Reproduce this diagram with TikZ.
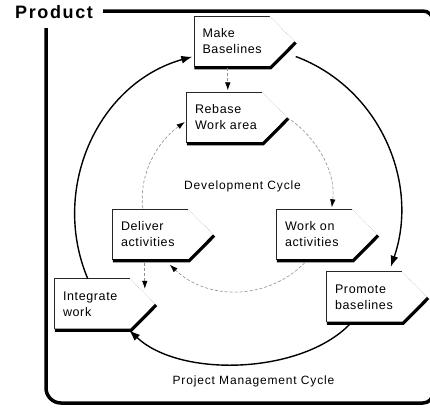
\documentclass[tikz,border=0pt]{standalone}
\usepackage{fontspec}
\setmainfont{Liberation Sans}
\newfontfamily\boxfont[LetterSpace=5]{Liberation Sans}
\newfontfamily\cyclefont[LetterSpace=7]{Liberation Sans}
\newfontfamily\titlefont[LetterSpace=9]{Liberation Sans}
\usetikzlibrary{calc,arrows.meta}

\tikzset{
  stepbox/.style={minimum width=100pt, minimum height=50pt, inner xsep=8pt,
    inner ysep=0pt, text width=84pt, align=left,
    font=\boxfont\fontsize{12.5}{16}\selectfont},
  boxedge/.style={line width=0.7pt, black!85},
  boxtip/.style={line width=0.5pt, gray!60, densely dotted},
  boxshadow/.style={line width=3.2pt, black},
  pmc/.style={line width=1.4pt, black, -{Latex[length=11pt,width=8pt]}},
  devc/.style={line width=0.65pt, gray!85, densely dashed,
    -{Latex[length=8pt,width=5.5pt,color=black]}},
  cyclelabel/.style={inner sep=0pt, font=\cyclefont\fontsize{12}{14}\selectfont},
  frameline/.style={line width=3.5pt, black}
}

% outline of a step box: thin left and top edges, faint upper point,
% heavy drop shadow along the lower point and the bottom
\newcommand\stepoutline[1]{%
  \draw[boxedge] (#1.south west) -- (#1.north west) -- ($(#1.north east)+(-25,0)$);
  \draw[boxtip] ($(#1.north east)+(-25,0)$) -- (#1.east);
  \draw[boxshadow] ($(#1.east)+(1,1)$) -- ($(#1.south east)+(-24,1)$) -- ($(#1.south west)+(0,1)$);
}

\begin{document}
\begin{tikzpicture}[x=1pt,y=-1pt]
\useasboundingbox (0,0) rectangle (430,407);

% product frame, its right side running just past the page edge
\node[anchor=base west, inner sep=0pt, font=\titlefont\bfseries\fontsize{18}{20}\selectfont]
  (prod) at (15,18) {Product};
\draw[frameline] (103,11) [rounded corners=10pt] -- (433,11) -- (433,403)
  [rounded corners=15pt] -- (46,403) [sharp corners] -- (46,28);

% steps
\node[stepbox] (mb) at (244.5,41.5) {Make\\Baselines};
\node[stepbox] (rb) at (237,117.5) {Rebase\\Work area};
\node[stepbox] (wa) at (327,234.5) {Work on\\activities};
\node[stepbox] (pb) at (377,297) {Promote\\baselines};
\node[stepbox] (da) at (163,234.5) {Deliver\\activities};
\node[stepbox] (iw) at (105,304) {Integrate\\work};
\foreach \n in {mb,rb,wa,pb,da,iw} {\stepoutline{\n}}

% project management cycle
\draw[pmc] ($(iw.north west)+(33,0)$) .. controls +(-38,-90) and +(-94.5,26.4)
  .. ($(mb.south west)+(-2,-10)$);
\draw[pmc] ($(mb.east)+(1,15)$) .. controls +(83.7,31.3) and +(29.1,-84.5)
  .. ($(pb.north west)+(64,-5)$);
\draw[pmc] ($(pb.south west)+(23,2)$) .. controls +(-48.8,50.2) and +(51,48)
  .. ($(iw.south east)+(-26,1)$);

% development cycle
\draw[devc] ($(mb.south west)+(33.5,1.5)$) -- ($(rb.north west)+(41,-2)$);
\draw[devc] (rb.east) .. controls +(29.5,19.2) and +(4.4,-34.9)
  .. ($(wa.north west)+(55,-2)$);
\draw[devc] ($(wa.south west)+(28,3)$) .. controls +(-36.9,37.5) and +(38,36.3)
  .. ($(da.south west)+(57,5)$);
\draw[devc] ($(da.north west)+(30,-1)$) .. controls +(-4.3,-33.6) and +(-27.6,19.7)
  .. ($(rb.west)+(-2,4.5)$);
\draw[devc] ($(da.south west)+(32,3)$) -- ($(iw.north west)+(90,10)$);

% cycle names
\node[cyclelabel] (devname) at (242.5,186) {Development Cycle};
\node[cyclelabel] (pmcname) at (253.5,381) {Project Management Cycle};
\end{tikzpicture}
\end{document}
